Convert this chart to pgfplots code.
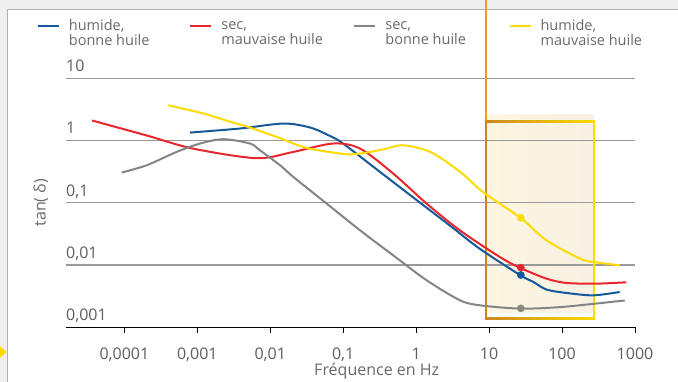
\documentclass[border=0pt]{standalone}
\usepackage{fontspec}
\setmainfont{Open Sans}
\usepackage{pgfplots}
\pgfplotsset{compat=1.18}
\pgfdeclarelayer{picbg}
\pgfplotsset{layers/mylayers/.define layer set={picbg,axis background,axis grid,axis ticks,axis lines,axis tick labels,pre main,main,axis descriptions,axis foreground}{}}
\newcommand{\legtext}[3]{\parbox[t]{#1}{\fontsize{14.5}{15}\selectfont #2\\#3}}
\definecolor{cblue}{HTML}{15599A}
\definecolor{cred}{HTML}{E8262D}
\definecolor{cgray}{HTML}{858585}
\definecolor{cyellow}{HTML}{FFDB00}
\definecolor{txtc}{HTML}{6A6A6A}
\definecolor{tickc}{HTML}{5E5E5E}
\definecolor{gridc}{HTML}{9A9A9A}
\definecolor{bgc}{HTML}{EFEFEF}
\definecolor{framec}{HTML}{B0B0B0}
\definecolor{borange}{HTML}{C8871E}
\definecolor{lorange}{HTML}{E0A21A}
\definecolor{cream1}{HTML}{FCF5E1}
\definecolor{cream2}{HTML}{F7F1E3}
\definecolor{dotgray}{HTML}{8A8A7C}
\begin{document}
\begin{tikzpicture}
\begin{axis}[
  set layers=mylayers,
  at={(0pt,0pt)}, anchor=south west,
  scale only axis, width=569pt, height=248.9pt,
  xmode=log, ymode=log,
  xmin=1.585e-5, xmax=1000, ymin=0.001, ymax=10,
  clip=false,
  axis x line*=bottom, axis y line*=left,
  axis line style={-},
  x axis line style={black, line width=1.1pt},
  y axis line style={draw=none},
  xtick={1e-4,1e-3,1e-2,1e-1,1,10,100,1000},
  xticklabels={{0,0001},{0,001},{0,01},{0,1},1,10,100,1000},
  ytick={1e-3,1e-2,1e-1,1,10},
  yticklabels={{0,001},{0,01},{0,1},1,10},
  xminorticks=false, yminorticks=false,
  x tick style={black, line width=0.9pt},
  xtick align=outside, ytick align=inside, major tick length=6pt,
  y tick style={draw=none},
  ymajorgrids, major grid style={gridc, line width=1.2pt},
  tick label style={font=\fontsize{16}{18}\selectfont, text=tickc},
  xticklabel style={anchor=north, inner sep=0pt, yshift=-14.7pt},
  yticklabel style={anchor=base west, inner sep=0pt, xshift=0pt, yshift=6.6pt},
  xlabel={Fréquence en Hz}, ylabel={tan( δ)},
  label style={font=\fontsize{16}{18}\selectfont, text=txtc},
  xlabel style={at={(axis description cs:0.546,-0.1949)}, anchor=base},
  ylabel style={at={(axis description cs:-0.0443,0.5)}, anchor=center},
  legend style={at={(axis description cs:-0.0515,1.2354)}, anchor=north west, draw=none, fill=none, inner sep=0pt,
    font=\fontsize{14.5}{15}\selectfont, text=txtc, legend columns=4,
    /tikz/every odd column/.append style={column sep=9pt},
    /tikz/every even column/.append style={column sep=0pt},
    nodes={inner sep=0pt}},
  legend image code/.code={\draw[#1, line width=2pt] (0pt,0pt) -- (21pt,0pt);},
]
\begin{pgfonlayer}{picbg}
\fill[bgc] ([xshift=-66pt,yshift=-54.8pt]rel axis cs:0,0) rectangle ([xshift=612pt,yshift=327.2pt]rel axis cs:0,0);
\fill[white] ([xshift=-58pt,yshift=-54.8pt]rel axis cs:0,0) rectangle ([xshift=612pt,yshift=317.2pt]rel axis cs:0,0);
\draw[framec, line width=1pt] ([xshift=-58pt,yshift=-54.8pt]rel axis cs:0,0) -- ([xshift=-58pt,yshift=317.2pt]rel axis cs:0,0) -- ([xshift=612pt,yshift=317.2pt]rel axis cs:0,0);
\fill[cyellow] ([xshift=-66pt,yshift=-19pt]rel axis cs:0,0) -- ([xshift=-59.5pt,yshift=-24.8pt]rel axis cs:0,0) -- ([xshift=-66pt,yshift=-30.6pt]rel axis cs:0,0) -- cycle;
\end{pgfonlayer}
\begin{pgfonlayer}{axis background}
\shade[left color=cream1, right color=cream2] (axis cs:9.15,2.65) rectangle (axis cs:268,0.00172);
\end{pgfonlayer}
\draw[lorange, line width=2.2pt] (axis cs:9.07,2.02) -- (axis cs:9.07,200);
\draw[borange, line width=2.4pt] (axis cs:9.07,2.02) -- (axis cs:9.07,0.001374);
\draw[cyellow, line width=2.4pt] (axis cs:274,2.02) -- (axis cs:274,0.001374);
\shade[left color=borange, right color=cyellow] ([xshift=-1.2pt,yshift=1.2pt]axis cs:9.07,2.02) rectangle ([xshift=1.2pt,yshift=-1.2pt]axis cs:274,2.02);
\shade[left color=borange, right color=cyellow] ([xshift=-1.2pt,yshift=1.2pt]axis cs:9.07,0.001374) rectangle ([xshift=1.2pt,yshift=-1.2pt]axis cs:274,0.001374);

\addplot[cblue, line width=2pt, smooth] coordinates {
(7.94e-4,1.343) (3.85e-3,1.56) (0.01514,1.875) (0.035,1.622) (0.0656,1.186) (0.1,0.891) (0.316,0.316) (1,0.112) (3.16,0.0398) (7.46,0.0182) (26.9,0.00682) (40.1,0.00537) (61.1,0.00403) (115,0.00355) (266,0.00325) (617,0.00368)};
\addlegendentry{\legtext{120.5pt}{humide,}{bonne huile}}
\addplot[cred, line width=2pt, smooth] coordinates {
(3.6e-5,2.1) (2.0e-4,1.21) (8.8e-4,0.74) (6.5e-3,0.52) (0.0207,0.656) (0.073,0.895) (0.17,0.743) (0.484,0.295) (1.39,0.097) (3.98,0.036) (14.0,0.01345) (26.9,0.00895) (61.1,0.00604) (115,0.00514) (295,0.00501) (759,0.00527)};
\addlegendentry{\legtext{132pt}{sec,}{mauvaise huile}}
\addplot[cgray, line width=2pt, smooth] coordinates {
(9.2e-5,0.306) (2.03e-4,0.401) (5.2e-4,0.656) (1.09e-3,0.895) (2.27e-3,1.05) (5.27e-3,0.895) (7.2e-3,0.698) (0.0136,0.401) (0.0207,0.26) (0.0593,0.097) (0.17,0.0361) (0.484,0.0143) (1.39,0.00568) (3.98,0.00271) (7.46,0.00225) (26.9,0.00199) (102,0.00212) (724,0.00269)};
\addlegendentry{\legtext{123.2pt}{sec,}{bonne huile}}
\addplot[cyellow, line width=2pt, smooth] coordinates {
(3.98e-4,3.69) (1.26e-3,2.69) (2.51e-3,2.09) (5.25e-3,1.62) (0.0135,1.096) (0.0316,0.759) (0.1,0.61) (0.17,0.617) (0.355,0.72) (0.664,0.84) (1.585,0.65) (3.98,0.316) (8.3,0.148) (26.9,0.0574) (61.1,0.0249) (175,0.0127) (266,0.0112) (617,0.00989)};
\addlegendentry{\legtext{120pt}{humide,}{mauvaise huile}}

\addplot[only marks, mark=*, mark size=3.6pt, cyellow, forget plot] coordinates {(27.2,0.0574)};
\addplot[only marks, mark=*, mark size=3.6pt, cred, forget plot] coordinates {(27.2,0.00905)};
\addplot[only marks, mark=*, mark size=3.6pt, cblue, forget plot] coordinates {(27.2,0.0069)};
\addplot[only marks, mark=*, mark size=3.6pt, dotgray, forget plot] coordinates {(27.2,0.00201)};
\end{axis}
\pgfresetboundingbox
\path[use as bounding box] (-66pt,-54.8pt) rectangle (612pt,327.2pt);
\end{tikzpicture}
\end{document}
